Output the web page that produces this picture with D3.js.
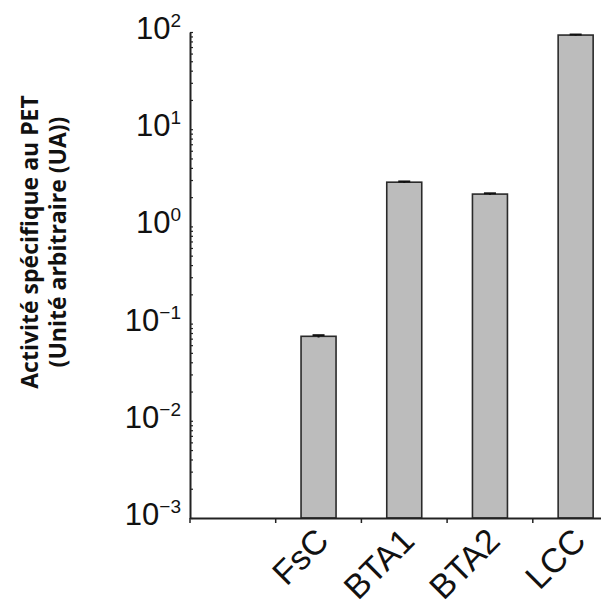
<!DOCTYPE html>
<html>
<head>
<meta charset="utf-8">
<script src="https://cdn.jsdelivr.net/npm/d3@7"></script>
<style>
  body { margin: 0; background: #fff; }
</style>
</head>
<body>
<svg width="601" height="605"></svg>
<script>
// data
const categories = ['', 'FsC', 'BTA1', 'BTA2', 'LCC'];
const activity = [0.001, 0.074, 2.85, 2.15, 93];
const errors = [0, 0.002, 0.05, 0.04, 1.2];
const decades = [-3, -2, -1, 0, 1, 2];

const svg = d3.select('svg');

// scales
const x = d3.scaleBand()
    .domain(categories)
    .range([190, 618.5]);

const y = d3.scaleLog()
    .domain([1e-3, 1e2])
    .range([518, 32]);

// minor + major ticks for the log axis
const tickVals = [];
decades.forEach(d => {
  if (d < 2) {
    for (let k = 1; k <= 9; k++) tickVals.push(k * Math.pow(10, d));
  } else {
    tickVals.push(Math.pow(10, d));
  }
});

// bars
const barW = 35;
svg.append('g')
  .selectAll('rect')
  .data(categories)
  .join('rect')
    .attr('x', d => x(d) + x.bandwidth() / 2 - barW / 2)
    .attr('y', (d, i) => y(activity[i]))
    .attr('width', barW)
    .attr('height', (d, i) => y(1e-3) - y(activity[i]))
    .attr('fill', '#bcbcbc')
    .attr('stroke', '#2a2a2a')
    .attr('stroke-width', 1.6);

// small error caps
const errG = svg.append('g')
    .attr('stroke', '#111')
    .attr('stroke-width', 2);
categories.forEach((c, i) => {
  if (!errors[i]) return;
  const cx = x(c) + x.bandwidth() / 2;
  errG.append('line')
      .attr('x1', cx).attr('x2', cx)
      .attr('y1', y(activity[i] - errors[i]))
      .attr('y2', y(activity[i] + errors[i]));
  errG.append('line')
      .attr('x1', cx - 6).attr('x2', cx + 6)
      .attr('y1', y(activity[i] + errors[i]))
      .attr('y2', y(activity[i] + errors[i]));
});

// y axis, ticks inward
const yAxis = svg.append('g')
    .attr('transform', 'translate(190,0)')
    .call(d3.axisLeft(y)
      .tickValues(tickVals)
      .tickSize(-3)
      .tickSizeOuter(0)
      .tickFormat(''));
yAxis.select('.domain').attr('stroke', '#222').attr('stroke-width', 2);
yAxis.selectAll('.tick line').attr('stroke', '#222').attr('stroke-width', 1.2);

// y tick labels 10^n
const yLab = svg.append('g')
    .attr('font-family', 'Liberation Sans, Arial, sans-serif')
    .attr('fill', '#111');
decades.forEach(d => {
  const t = yLab.append('text')
      .attr('x', 181)
      .attr('y', y(Math.pow(10, d)) + 7)
      .attr('text-anchor', 'end')
      .attr('font-size', 31);
  t.append('tspan').text('10');
  t.append('tspan')
      .attr('font-size', 19)
      .attr('dy', -12)
      .text(d < 0 ? '\u2212' + (-d) : d);
});

// x axis, ticks at band edges
const xAxis = svg.append('g')
    .attr('transform', 'translate(0,518)')
    .call(d3.axisBottom(x)
      .tickSize(5)
      .tickSizeOuter(0)
      .tickFormat(''));
xAxis.selectAll('.tick')
    .attr('transform', d => `translate(${x(d)},0)`);
xAxis.select('.domain').attr('stroke', '#222').attr('stroke-width', 2);
xAxis.selectAll('.tick line').attr('stroke', '#222').attr('stroke-width', 1.5);

// rotated category labels
svg.append('g')
  .selectAll('text')
  .data(categories.filter(c => c))
  .join('text')
    .attr('transform', d => `translate(${x(d) + x.bandwidth() / 2 + 12},543) rotate(-45)`)
    .attr('text-anchor', 'end')
    .attr('font-family', 'Liberation Sans, Arial, sans-serif')
    .attr('font-size', 34)
    .attr('fill', '#111')
    .text(d => d);

// y axis title, two lines
const title = svg.append('text')
    .attr('transform', 'translate(38,242) rotate(-90)')
    .attr('text-anchor', 'middle')
    .attr('font-family', 'Open Sans, sans-serif')
    .attr('font-weight', 'bold')
    .attr('font-size', 23)
    .attr('fill', '#111');
title.append('tspan').attr('x', 0).text('Activité spécifique au PET');
title.append('tspan').attr('x', 0).attr('dy', 28).text('(Unité arbitraire (UA))');
</script>
</body>
</html>
